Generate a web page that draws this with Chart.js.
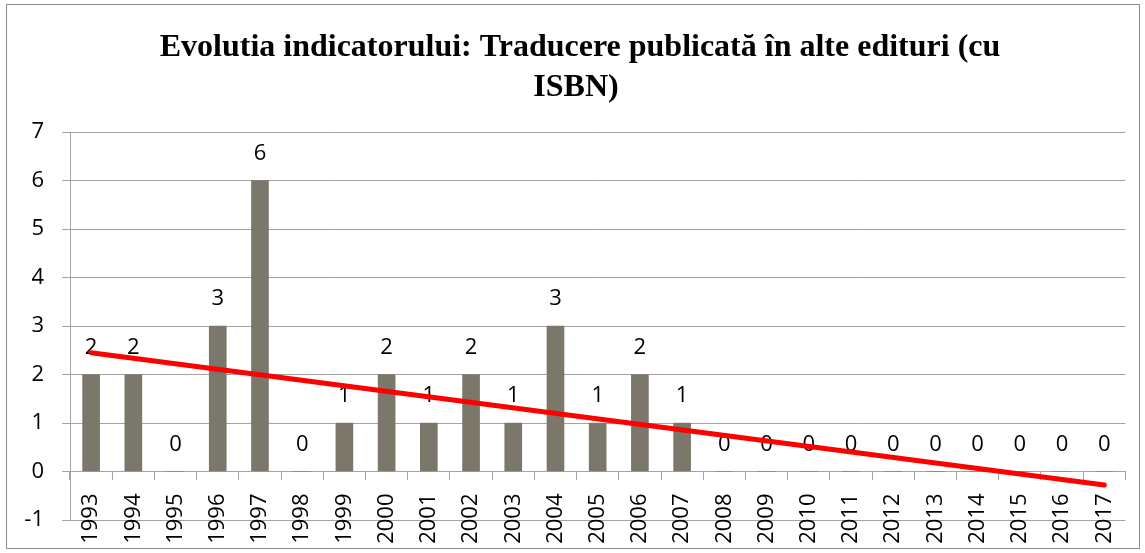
<!DOCTYPE html>
<html>
<head>
<meta charset="utf-8">
<script src="https://cdn.jsdelivr.net/npm/chart.js@4/dist/chart.umd.min.js"></script>
<style>
  body { margin: 0; background: #fff; }
  #frame { position: absolute; left: 6px; top: 4px; width: 1134px; height: 545px; border: 1px solid #8c8c8c; box-sizing: border-box; }
  #chart { position: absolute; left: 0; top: 0; }
</style>
</head>
<body>
<div id="frame"></div>
<canvas id="chart" width="1145" height="553"></canvas>
<script>
// Date
const years = ['1993', '1994', '1995', '1996', '1997', '1998', '1999', '2000', '2001', '2002', '2003', '2004', '2005',
  '2006', '2007', '2008', '2009', '2010', '2011', '2012', '2013', '2014', '2015', '2016', '2017'];
const values = [2, 2, 0, 3, 6, 0, 1, 2, 1, 2, 1, 3, 1, 2, 1, 0, 0, 0, 0, 0, 0, 0, 0, 0, 0];
// capetele liniei de tendinta
const trendStart = 2.45;
const trendEnd = -0.28;
const titleLines = ['Evolutia indicatorului: Traducere publicată în alte edituri (cu', 'ISBN)'];

const gridColor = '#a3a3a3';
const labelFont = { family: '"Open Sans", "Liberation Sans", sans-serif', size: 22 };

// titlul desenat manual
const titlePlugin = {
    id: 'titleText',
    afterDraw(chart) {
        const ctx = chart.ctx;
        ctx.save();
        ctx.fillStyle = '#000';
        ctx.font = 'bold 32px "Liberation Serif", "Times New Roman", serif';
        ctx.textAlign = 'center';
        ctx.textBaseline = 'alphabetic';
        ctx.fillText(titleLines[0], 580, 56);
        ctx.fillText(titleLines[1], 576, 96);
        ctx.restore();
    }
};

// etichete cu valori deasupra barelor
const valueLabels = {
    id: 'valueLabels',
    afterDatasetDraw(chart, args) {
        if (args.meta.type !== 'bar') return;
        const ctx = chart.ctx;
        const yScale = chart.scales.y;
        ctx.save();
        ctx.fillStyle = '#000';
        ctx.font = '22px "Open Sans", "Liberation Sans", sans-serif';
        ctx.textAlign = 'center';
        ctx.textBaseline = 'middle';
        args.meta.data.forEach((bar, i) => {
            const v = values[i];
            ctx.fillText(String(v), bar.x, yScale.getPixelForValue(v) - 27);
        });
        ctx.restore();
    }
};

new Chart(document.getElementById('chart'), {
    type: 'bar',
    data: {
        labels: years,
        datasets: [{
            type: 'line',
            data: [{ x: years[0], y: trendStart }, { x: years[years.length - 1], y: trendEnd }],
            borderColor: '#ff0000',
            borderWidth: 5,
            borderCapStyle: 'round',
            pointRadius: 0,
            fill: false,
            order: 0
        }, {
            type: 'bar',
            data: values,
            backgroundColor: '#7b776a',
            barThickness: 17,
            order: 1
        }]
    },
    options: {
        responsive: false,
        animation: false,
        layout: { padding: { top: 132, right: 16, bottom: 33, left: 0 } },
        plugins: {
            legend: { display: false },
            tooltip: { enabled: false }
        },
        scales: {
            x: {
                position: { y: 0 },
                grid: { display: true, drawOnChartArea: false, drawTicks: true, tickLength: 8, color: gridColor, offset: true },
                border: { display: true, color: gridColor },
                ticks: { color: '#000', font: labelFont, minRotation: 90, maxRotation: 90, autoSkip: false, padding: 14 }
            },
            y: {
                min: -1,
                max: 7,
                grid: { color: gridColor, tickLength: 8 },
                border: { display: true, color: gridColor },
                ticks: { stepSize: 1, color: '#000', font: labelFont, padding: 18 },
                afterFit(scale) { scale.width = 70; }
            }
        }
    },
    plugins: [titlePlugin, valueLabels]
});
</script>
</body>
</html>
